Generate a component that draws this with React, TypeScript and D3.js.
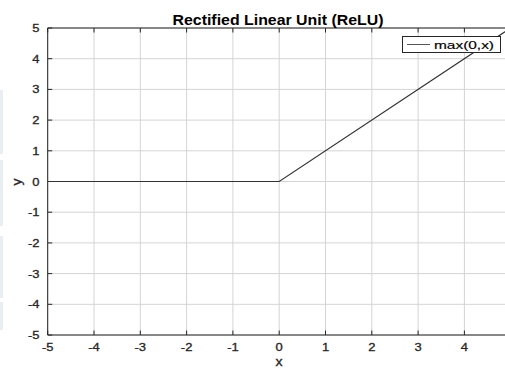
import React from "react";
import * as d3 from "d3";

const xTicks = [-5, -4, -3, -2, -1, 0, 1, 2, 3, 4, 5];
const xTickLabels = [-5, -4, -3, -2, -1, 0, 1, 2, 3, 4];
const yTicks = [-5, -4, -3, -2, -1, 0, 1, 2, 3, 4, 5];
const lineX = [-5, 0, 5];
const lineY = [0, 0, 5];
const title = "Rectified Linear Unit (ReLU)";
const legendLabel = "max(0,x)";
const xLabel = "x";
const yLabel = "y";

const W = 505, H = 370;
const L = 47.7, R = 510.7, T = 28, B = 335;
const font = "'Liberation Sans', Arial, sans-serif";
const SX = 1.18;

export default function App() {
  const x = d3.scaleLinear().domain([-5, 5]).range([L, R]);
  const y = d3.scaleLinear().domain([-5, 5]).range([B, T]);
  const pts = lineX.map((v, i) => [v, lineY[i]] as [number, number]);
  const line = d3.line<[number, number]>().x(d => x(d[0])).y(d => y(d[1]));
  const tk = 4.5;
  const txt = { fontSize: 11, fill: "#262626", stroke: "#262626", strokeWidth: 0.3 };
  return (
    <svg width={W} height={H} style={{ position: "fixed", left: 0, top: 0, background: "#fff" }} fontFamily={font}>
      <rect x={0} y={0} width={W} height={H} fill="#fff" />
      <rect x={0} y={90} width={3} height={64} fill="#e8eef1" />
      <rect x={0} y={160} width={3} height={66} fill="#e8eef1" />
      <rect x={0} y={236} width={3} height={62} fill="#e8eef1" />
      <rect x={0} y={302} width={3} height={28} fill="#e8eef1" />
      <defs>
        <clipPath id="plot"><rect x={L} y={T} width={R - L} height={B - T} /></clipPath>
      </defs>
      {xTicks.map(t => (
        <line key={"gx" + t} x1={x(t)} x2={x(t)} y1={T} y2={B} stroke="#d4d4d4" strokeWidth={1} />
      ))}
      {yTicks.map(t => (
        <line key={"gy" + t} x1={L} x2={R} y1={y(t)} y2={y(t)} stroke="#d4d4d4" strokeWidth={1} />
      ))}
      <line x1={L} x2={R} y1={B} y2={B} stroke="#262626" strokeWidth={1} />
      <line x1={L} x2={R} y1={T} y2={T} stroke="#262626" strokeWidth={1} />
      <line x1={L} x2={L} y1={T} y2={B} stroke="#262626" strokeWidth={1} />
      {xTicks.map(t => (
        <g key={"tx" + t}>
          <line x1={x(t)} x2={x(t)} y1={B} y2={B - tk} stroke="#262626" />
          <line x1={x(t)} x2={x(t)} y1={T} y2={T + tk} stroke="#262626" />
        </g>
      ))}
      {xTickLabels.map(t => (
        <text key={"lx" + t} transform={`translate(${x(t)},351) scale(${SX},1)`} textAnchor="middle" {...txt}>{t}</text>
      ))}
      {yTicks.map(t => (
        <g key={"ty" + t}>
          <line x1={L} x2={L + tk} y1={y(t)} y2={y(t)} stroke="#262626" />
          <text transform={`translate(39.5,${y(t) + 4}) scale(${SX},1)`} textAnchor="end" {...txt}>{t}</text>
        </g>
      ))}
      <path d={line(pts) || ""} fill="none" stroke="#333" strokeWidth={1.1} clipPath="url(#plot)" />
      <text x={278} y={25} textAnchor="middle" fontSize={14} fontWeight="bold" fill="#000" textLength={211} lengthAdjust="spacingAndGlyphs">{title}</text>
      <text transform={`translate(279,366) scale(${SX},1)`} textAnchor="middle" {...txt} fontSize={12}>{xLabel}</text>
      <text transform={`translate(21,182) rotate(-90) scale(${SX},1)`} textAnchor="middle" {...txt} fontSize={12}>{yLabel}</text>
      <rect x={402.5} y={36.5} width={98} height={16} fill="#fff" stroke="#262626" strokeWidth={1} />
      <line x1={407} x2={430} y1={44.5} y2={44.5} stroke="#555" strokeWidth={1} />
      <text x={434} y={48.5} fontSize={11} fill="#000" stroke="#000" strokeWidth={0.15} textLength={60} lengthAdjust="spacingAndGlyphs">{legendLabel}</text>
    </svg>
  );
}
